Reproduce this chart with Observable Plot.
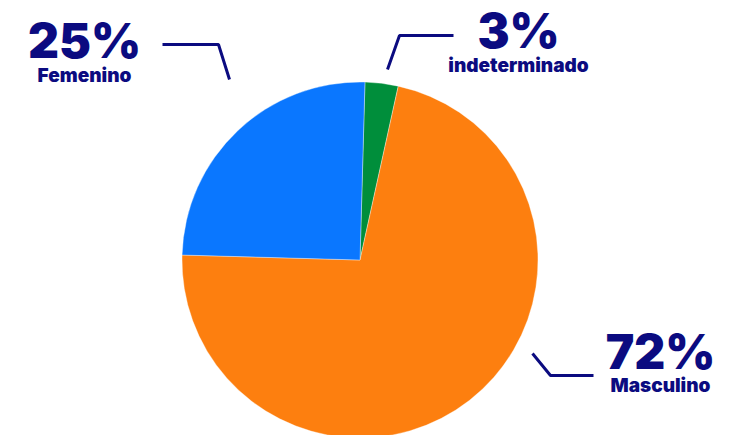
<!DOCTYPE html>
<html>
<head>
<meta charset="utf-8">
<script src="https://cdn.jsdelivr.net/npm/d3@7"></script>
<script src="https://cdn.jsdelivr.net/npm/@observablehq/plot@0.6"></script>
<style>
  html, body { margin: 0; padding: 0; background: #ffffff; }
  #chart svg { display: block; }
</style>
</head>
<body>
<div id="chart"></div>
<script>
// ---- data ----
const categories = ["indeterminado", "Masculino", "Femenino"];
const values = [3, 72, 25];
const percentLabels = ["3%", "72%", "25%"];
const sliceColors = ["#008e3b", "#fd7f0f", "#0a77ff"];

// ---- layout (pixel space) ----
const W = 731, H = 435;
const center = {x: 360, y: 260};
const radius = 178;
const startAngle = 0.028; // radians, slight clockwise offset from 12 o'clock
const navy = "#0b0b80";

// label anchors per category
const labelLayout = [
  {cat: "indeterminado", x: 518, pctY: 47, nameY: 71,
   leader: [[453, 35], [399, 35], [387, 69]]},
  {cat: "Masculino", x: 660, pctY: 368, nameY: 391,
   leader: [[593, 375], [550, 375], [532, 353]]},
  {cat: "Femenino", x: 84, pctY: 57, nameY: 81,
   leader: [[162, 44], [218, 44], [229, 79]]}
];

const data = categories.map((c, i) => ({category: c, value: values[i], label: percentLabels[i]}));
const color = d3.scaleOrdinal(categories, sliceColors);

const textRows = data.map(d => {
  const L = labelLayout.find(l => l.cat === d.category);
  return {...d, x: L.x, pctY: L.pctY, nameY: L.nameY};
});
const leaderRows = labelLayout.flatMap(l => l.leader.map(([x, y]) => ({cat: l.cat, x, y})));

// pie mark drawn via d3.pie / d3.arc, positioned with Plot's scales
function pieMark(index, scales) {
  const cx = scales.x(center.x), cy = scales.y(center.y);
  const r = scales.x(center.x + radius) - cx;
  const pie = d3.pie().sort(null).value(d => d.value)
    .startAngle(startAngle).endAngle(startAngle + 2 * Math.PI);
  const arc = d3.arc().innerRadius(0).outerRadius(r);
  const g = d3.create("svg:g").attr("transform", `translate(${cx},${cy})`);
  g.selectAll("path").data(pie(data)).join("path")
    .attr("d", arc)
    .attr("fill", d => color(d.data.category))
    .attr("stroke", "#ffffff")
    .attr("stroke-opacity", 0.6)
    .attr("stroke-width", 0.6);
  return g.node();
}

const plot = Plot.plot({
  width: W,
  height: H,
  margin: 0,
  x: {domain: [0, W], range: [0, W], axis: null},
  y: {domain: [0, H], range: [0, H], axis: null},
  style: {background: "transparent", fontFamily: "Inter, 'Noto Sans', sans-serif", overflow: "visible"},
  marks: [
    pieMark,
    Plot.line(leaderRows, {x: "x", y: "y", z: "cat", stroke: navy, strokeWidth: 3, strokeLinejoin: "miter", strokeLinecap: "butt"}),
    Plot.text(textRows, {x: "x", y: "pctY", text: "label", fill: navy, fontSize: 48, fontWeight: 900,
      textAnchor: "middle", lineAnchor: "bottom", fontFamily: "Inter"}),
    Plot.text(textRows, {x: "x", y: "nameY", text: "category", fill: navy, fontSize: 19, fontWeight: 900,
      textAnchor: "middle", lineAnchor: "bottom", fontFamily: "Inter"})
  ]
});
document.getElementById("chart").appendChild(plot);
</script>
</body>
</html>
